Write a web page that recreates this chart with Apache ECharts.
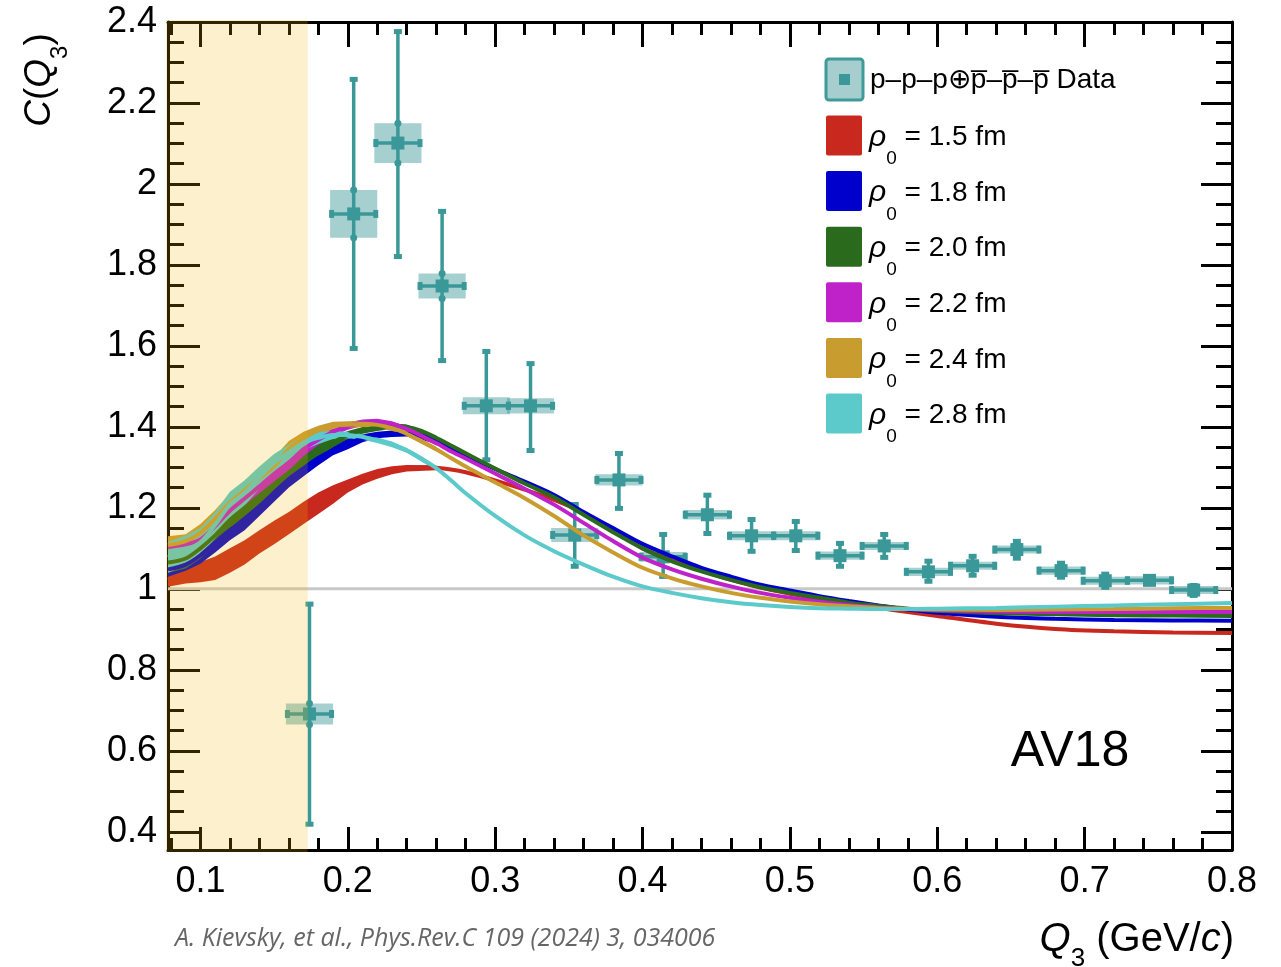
<!DOCTYPE html>
<html><head><meta charset="utf-8">
<script src="https://cdn.jsdelivr.net/npm/echarts@6/dist/echarts.min.js"></script>
<style>html,body{margin:0;padding:0;background:#fff}#c{width:1281px;height:967px}</style>
</head><body><div id="c"></div>
<script>
// ---------- axis ranges & tick labels ----------
const X_MIN = 0.078, X_MAX = 0.8, Y_MIN = 0.355, Y_MAX = 2.4;
const X_TICK_LABELS = ['0.1','0.2','0.3','0.4','0.5','0.6','0.7','0.8'];
const Y_TICK_LABELS = ['0.4','0.6','0.8','1','1.2','1.4','1.6','1.8','2','2.2','2.4'];
const YELLOW_END = 0.1728;

// ---------- data points ----------
const PTS_X   = [0.174,0.204,0.234,0.264,0.294,0.324,0.354,0.384,0.414,0.444,0.474,0.504,0.534,0.564,0.594,0.624,0.654,0.684,0.714,0.744,0.774];
const PTS_Y   = [0.691,1.926,2.101,1.748,1.452,1.452,1.133,1.269,1.079,1.183,1.131,1.131,1.082,1.106,1.042,1.057,1.097,1.045,1.020,1.021,0.997];
const STAT_LO = [0.415,1.590,1.817,1.560,1.315,1.338,1.052,1.195,1.027,1.133,1.089,1.091,1.052,1.074,1.015,1.030,1.072,1.025,1.000,1.010,0.980];
const STAT_HI = [0.966,2.262,2.380,1.936,1.590,1.560,1.212,1.338,1.138,1.235,1.175,1.170,1.116,1.138,1.072,1.084,1.121,1.067,1.040,1.033,1.012];
const SYS     = [0.026,0.059,0.049,0.031,0.021,0.019,0.017,0.014,0.012,0.012,0.011,0.011,0.010,0.010,0.010,0.010,0.010,0.010,0.010,0.010,0.010];
const X_ERR = 0.016;

// ---------- model curves ----------
const X_CURVE = [0.078,0.09,0.10,0.11,0.12,0.13,0.14,0.15,0.16,0.17,0.18,0.19,0.20,0.21,0.22,0.23,0.24,0.25,0.26,0.27,0.28,0.30,0.32,0.34,0.36,0.38,0.40,0.42,0.44,0.46,0.48,0.50,0.52,0.54,0.56,0.58,0.60,0.64,0.68,0.72,0.76,0.80];
const X_BAND  = [0.078,0.09,0.10,0.11,0.12,0.13,0.14,0.15,0.16,0.17,0.18,0.19,0.20,0.21,0.22,0.23,0.24,0.26];

const RHO_LABELS = ['1.5','1.8','2.0','2.2','2.4','2.8'];

const C15 = [1.022,1.035,1.041,1.051,1.070,1.090,1.116,1.139,1.162,1.187,1.211,1.233,1.254,1.271,1.284,1.293,1.298,1.300,1.299,1.295,1.288,1.268,1.245,1.220,1.188,1.146,1.100,1.070,1.045,1.022,1.003,0.988,0.975,0.963,0.953,0.943,0.933,0.914,0.901,0.895,0.892,0.891];
const C18 = [1.048,1.060,1.083,1.115,1.145,1.169,1.203,1.238,1.271,1.298,1.323,1.343,1.358,1.372,1.380,1.383,1.383,1.378,1.365,1.348,1.330,1.296,1.265,1.232,1.190,1.150,1.111,1.080,1.052,1.030,1.010,0.996,0.982,0.970,0.959,0.949,0.941,0.931,0.926,0.923,0.922,0.921];
const C20 = [1.065,1.075,1.100,1.132,1.170,1.200,1.230,1.259,1.287,1.318,1.341,1.362,1.380,1.392,1.398,1.402,1.400,1.390,1.373,1.354,1.335,1.297,1.260,1.226,1.183,1.140,1.100,1.068,1.043,1.022,1.004,0.990,0.978,0.966,0.958,0.951,0.946,0.940,0.937,0.935,0.934,0.933];
const C22 = [1.103,1.110,1.122,1.155,1.193,1.223,1.253,1.284,1.312,1.345,1.368,1.388,1.402,1.410,1.412,1.407,1.395,1.378,1.360,1.340,1.322,1.285,1.247,1.208,1.163,1.118,1.077,1.048,1.025,1.006,0.990,0.978,0.968,0.960,0.954,0.950,0.947,0.944,0.943,0.943,0.943,0.943];
const C24 = [1.108,1.118,1.138,1.173,1.213,1.243,1.273,1.303,1.345,1.372,1.391,1.404,1.405,1.408,1.405,1.397,1.383,1.365,1.345,1.323,1.302,1.263,1.224,1.180,1.132,1.090,1.052,1.026,1.006,0.990,0.978,0.969,0.962,0.957,0.953,0.951,0.949,0.948,0.949,0.950,0.952,0.953];
const C28 = [1.078,1.095,1.115,1.158,1.208,1.237,1.275,1.311,1.337,1.361,1.373,1.380,1.380,1.375,1.367,1.357,1.342,1.322,1.298,1.268,1.236,1.180,1.132,1.093,1.060,1.030,1.006,0.990,0.977,0.967,0.960,0.955,0.952,0.951,0.950,0.950,0.951,0.953,0.956,0.959,0.962,0.965];

const LO15 = [1.005,1.013,1.016,1.022,1.040,1.060,1.087,1.110,1.135,1.160,1.185,1.210,1.238,1.258,1.272,1.283,1.290,1.293];
const HI15 = [1.040,1.056,1.066,1.080,1.100,1.120,1.145,1.168,1.190,1.215,1.238,1.256,1.270,1.284,1.296,1.303,1.306,1.305];
const LO18 = [1.030,1.045,1.062,1.090,1.120,1.145,1.180,1.215,1.250,1.278,1.305,1.330,1.345,1.362,1.372,1.375,1.376,1.359];
const HI18 = [1.065,1.075,1.105,1.140,1.170,1.193,1.225,1.260,1.292,1.318,1.340,1.356,1.371,1.382,1.388,1.391,1.390,1.371];
const LO20 = [1.040,1.050,1.075,1.110,1.150,1.180,1.210,1.240,1.268,1.300,1.325,1.350,1.370,1.383,1.390,1.395,1.394,1.367];
const HI20 = [1.090,1.100,1.125,1.155,1.190,1.220,1.250,1.278,1.305,1.335,1.357,1.375,1.390,1.400,1.405,1.409,1.406,1.379];
const LO22 = [1.080,1.090,1.100,1.130,1.170,1.200,1.230,1.262,1.292,1.328,1.355,1.378,1.393,1.402,1.405,1.400,1.389,1.354];
const HI22 = [1.125,1.130,1.145,1.180,1.215,1.245,1.275,1.305,1.332,1.362,1.382,1.400,1.411,1.418,1.420,1.414,1.401,1.366];
const LO24 = [1.085,1.100,1.115,1.150,1.190,1.220,1.250,1.280,1.325,1.355,1.378,1.395,1.397,1.400,1.397,1.390,1.377,1.339];
const HI24 = [1.130,1.135,1.160,1.195,1.235,1.265,1.295,1.325,1.365,1.388,1.403,1.413,1.414,1.415,1.412,1.404,1.389,1.351];
const LO28 = [1.040,1.057,1.080,1.125,1.175,1.205,1.248,1.288,1.318,1.343,1.358,1.370,1.372,1.368,1.360,1.350,1.336,1.292];
const HI28 = [1.116,1.132,1.150,1.190,1.240,1.268,1.302,1.333,1.356,1.378,1.388,1.390,1.388,1.382,1.374,1.364,1.348,1.304];

const CURVES = [C15, C18, C20, C22, C24, C28];
const BANDS_LO = [LO15, LO18, LO20, LO22, LO24, LO28];
const BANDS_HI = [HI15, HI18, HI20, HI22, HI24, HI28];

// ---------- styles ----------
const COLORS = ['#c9281f','#0000cc','#2a6a1c','#bf22c9','#c99c30','#5ccaca'];
const TEAL = '#3b9898';
const FONT = 'Liberation Sans, Arial, sans-serif';

// ---------- ticks ----------
const X_MAJOR = X_TICK_LABELS.map(Number);
const Y_MAJOR = Y_TICK_LABELS.map(Number);
const X_MINOR = [], Y_MINOR = [];
for (let i = 4; i <= 40; i++) { if (i % 5) X_MINOR.push(+(i * 0.02).toFixed(2)); }
for (let i = 8; i <= 48; i++) { if (i % 4) Y_MINOR.push(+(i * 0.05).toFixed(2)); }

function axisCfg(kind, pos, values, len, main, labels) {
  const a = {
    type: 'value', position: pos,
    min: kind === 'x' ? X_MIN : Y_MIN, max: kind === 'x' ? X_MAX : Y_MAX,
    axisLine: { show: main, onZero: false, lineStyle: { color: '#000', width: 3 } },
    axisTick: { show: true, inside: true, length: len, customValues: values, lineStyle: { color: '#000', width: 3 } },
    splitLine: { show: false }, minorTick: { show: false },
    axisLabel: { show: false }
  };
  if (labels) {
    a.axisLabel = {
      show: true, customValues: values, color: '#000', fontFamily: FONT,
      fontSize: 36, margin: kind === 'x' ? 14 : 11,
      formatter: v => String(+(+v).toFixed(2))
    };
  }
  return a;
}

const series = [];
// reference line at C = 1
series.push({ type: 'line', data: [[X_MIN, 1], [X_MAX, 1]], showSymbol: false, silent: true, z: 1,
  lineStyle: { color: '#c8c8c8', width: 3 } });
// data points
series.push({
  type: 'custom', z: 2, silent: true,
  data: PTS_X.map((x, i) => [x, PTS_Y[i], STAT_LO[i], STAT_HI[i], SYS[i]]),
  renderItem: (params, api) => {
    const x = api.value(0), y = api.value(1), lo = api.value(2), hi = api.value(3), s = api.value(4);
    const c = api.coord([x, y]);
    const pLo = api.coord([x, lo]), pHi = api.coord([x, hi]);
    const bl = api.coord([x - X_ERR, y - s]), tr = api.coord([x + X_ERR, y + s]);
    const pl = api.coord([x - X_ERR, y]), pr = api.coord([x + X_ERR, y]);
    const ch = [
      { type: 'rect', shape: { x: bl[0], y: tr[1], width: tr[0] - bl[0], height: bl[1] - tr[1] }, style: { fill: 'rgba(58,151,151,0.45)' } },
      { type: 'line', shape: { x1: c[0], y1: pHi[1], x2: c[0], y2: pLo[1] }, style: { stroke: TEAL, lineWidth: 3.5 } },
      { type: 'line', shape: { x1: pl[0], y1: c[1], x2: pr[0], y2: c[1] }, style: { stroke: TEAL, lineWidth: 3.5 } },
      { type: 'rect', shape: { x: c[0] - 4, y: pHi[1] - 1, width: 8, height: 5 }, style: { fill: TEAL } },
      { type: 'rect', shape: { x: c[0] - 4, y: pLo[1] - 4, width: 8, height: 5 }, style: { fill: TEAL } },
      { type: 'rect', shape: { x: pl[0] - 1, y: c[1] - 4, width: 5, height: 8 }, style: { fill: TEAL } },
      { type: 'rect', shape: { x: pr[0] - 4, y: c[1] - 4, width: 5, height: 8 }, style: { fill: TEAL } },
      { type: 'rect', shape: { x: c[0] - 6.5, y: c[1] - 6.5, width: 13, height: 13 }, style: { fill: TEAL } }
    ];
    if (bl[1] - tr[1] > 18) {
      ch.push({ type: 'circle', shape: { cx: c[0], cy: tr[1], r: 3.5 }, style: { fill: TEAL } });
      ch.push({ type: 'circle', shape: { cx: c[0], cy: bl[1], r: 3.5 }, style: { fill: TEAL } });
    }
    return { type: 'group', children: ch };
  }
});
// model bands + lines
CURVES.forEach((cv, k) => {
  const lo = BANDS_LO[k], hi = BANDS_HI[k];
  series.push({
    type: 'custom', z: 3, silent: true, clip: true,
    data: [[X_BAND[0], lo[0]]],
    renderItem: (params, api) => {
      const pts = [];
      for (let i = 0; i < X_BAND.length; i++) pts.push(api.coord([X_BAND[i], lo[i]]));
      for (let i = X_BAND.length - 1; i >= 0; i--) pts.push(api.coord([X_BAND[i], hi[i]]));
      return { type: 'polygon', shape: { points: pts }, style: { fill: COLORS[k] } };
    }
  });
  series.push({
    type: 'line', z: 3, silent: true, showSymbol: false, smooth: 0.3,
    data: X_CURVE.map((x, i) => [x, cv[i]]),
    lineStyle: { color: COLORS[k], width: 4 }
  });
});
// excluded region overlay (drawn on top, semi transparent)
series.push({
  type: 'custom', z: 20, silent: true, clip: false,
  data: [[X_MIN, Y_MAX]],
  renderItem: (params, api) => {
    const tl = api.coord([X_MIN, Y_MAX]), br = api.coord([YELLOW_END, Y_MIN]);
    return { type: 'rect', shape: { x: tl[0] - 2, y: tl[1] - 2, width: br[0] - tl[0] + 2, height: br[1] - tl[1] + 4 },
      style: { fill: 'rgba(245,180,0,0.2)' } };
  }
});

// ---------- legend & texts ----------
const g = [];
g.push({ type: 'rect', shape: { x: 826, y: 59, width: 37, height: 41, r: 3 }, style: { fill: '#a6cece', stroke: '#3f9a9a', lineWidth: 3 } });
g.push({ type: 'rect', shape: { x: 839, y: 74, width: 11, height: 11 }, style: { fill: TEAL } });
g.push({ type: 'text', x: 870, y: 80, style: { text: 'p\u2013p\u2013p\u2295p\u0305\u2013p\u0305\u2013p\u0305 Data', font: '28px ' + FONT, fill: '#000', textVerticalAlign: 'middle' } });
RHO_LABELS.forEach((r, i) => {
  const cy = 135.5 + 55.6 * i;
  g.push({ type: 'rect', shape: { x: 826, y: cy - 20, width: 36, height: 40, r: 2 }, style: { fill: COLORS[i] } });
  g.push({ type: 'text', x: 869, y: cy + 2, style: {
    text: '{r|\u03c1}{s|0}{n| = ' + r + ' fm}', textVerticalAlign: 'middle',
    rich: {
      r: { fontFamily: FONT, fontStyle: 'italic', fontSize: 30, lineHeight: 62, fill: '#000' },
      s: { fontFamily: FONT, fontSize: 19, lineHeight: 20, verticalAlign: 'bottom', fill: '#000' },
      n: { fontFamily: FONT, fontSize: 28, lineHeight: 62, fill: '#000' }
    } } });
});
g.push({ type: 'text', x: 1070, y: 752, style: { text: 'AV18', font: '50px ' + FONT, fill: '#000', textAlign: 'center', textVerticalAlign: 'middle' } });
g.push({ type: 'text', x: 1234, y: 940, style: {
  text: '{i|Q}{s|3}{n| (GeV/}{i|c}{n|)}', textAlign: 'right', textVerticalAlign: 'middle',
  rich: {
    i: { fontFamily: FONT, fontStyle: 'italic', fontSize: 40, lineHeight: 64, fill: '#000' },
    s: { fontFamily: FONT, fontSize: 26, lineHeight: 24, verticalAlign: 'bottom', fill: '#000' },
    n: { fontFamily: FONT, fontSize: 40, lineHeight: 64, fill: '#000' }
  } } });
g.push({ type: 'text', x: 40, y: 80, rotation: Math.PI / 2, style: {
  text: '{i|C}{n|(}{i|Q}{s|3}{n|)}', textAlign: 'center', textVerticalAlign: 'middle',
  rich: {
    i: { fontFamily: FONT, fontStyle: 'italic', fontSize: 37, lineHeight: 64, fill: '#000' },
    s: { fontFamily: FONT, fontSize: 24, lineHeight: 24, verticalAlign: 'bottom', fill: '#000' },
    n: { fontFamily: FONT, fontSize: 37, lineHeight: 64, fill: '#000' }
  } } });
g.push({ type: 'text', x: 175, y: 939, style: { text: 'A. Kievsky, et al., Phys.Rev.C 109 (2024) 3, 034006', font: 'italic 25px "Open Sans", sans-serif', fill: '#666666', textVerticalAlign: 'middle' } });

const chart = echarts.init(document.getElementById('c'), null, { renderer: 'canvas' });
chart.setOption({
  animation: false,
  backgroundColor: '#ffffff',
  grid: { left: 168, right: 49, top: 22, bottom: 117, containLabel: false },
  xAxis: [
    axisCfg('x', 'bottom', X_MAJOR, 23, true, true),
    axisCfg('x', 'bottom', X_MINOR, 12, false, false),
    axisCfg('x', 'top', X_MAJOR, 25, true, false),
    axisCfg('x', 'top', X_MINOR, 13, false, false)
  ],
  yAxis: [
    axisCfg('y', 'left', Y_MAJOR, 32, true, true),
    axisCfg('y', 'left', Y_MINOR, 16, false, false),
    axisCfg('y', 'right', Y_MAJOR, 31, true, false),
    axisCfg('y', 'right', Y_MINOR, 16, false, false)
  ],
  series: series,
  graphic: { elements: g.map(e => Object.assign({ z: 100 }, e)) }
});
</script></body></html>
